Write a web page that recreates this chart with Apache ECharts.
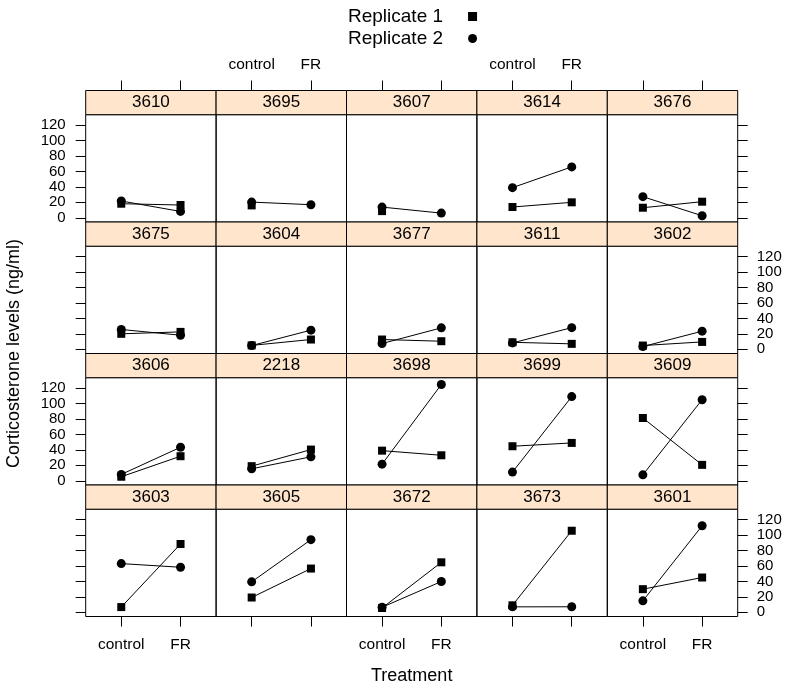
<!DOCTYPE html>
<html>
<head>
<meta charset="utf-8">
<script src="https://cdn.jsdelivr.net/npm/echarts@6/dist/echarts.min.js"></script>
<style>html,body{margin:0;padding:0;background:#fff}#c{width:788px;height:686px}</style>
</head>
<body>
<div id="c"></div>
<script>
const panels = ['3610','3695','3607','3614','3676','3675','3604','3677','3611','3602','3606','2218','3698','3699','3609','3603','3605','3672','3673','3601'];
const treatments = ['control','FR'];
const yTicks = [0,20,40,60,80,100,120];
const replicate1 = [[18.2,16.5],[16,null],[8.6,null],[13.9,20],[13,20.8],[20,22.5],[5,12.6],[12.6,10.4],[9,7],[4.8,9.5],[5.2,31.8],[18.9,40.4],[39,33],[44.7,49],[81.3,20.6],[6.7,88.4],[19.1,56.6],[5.5,64.7],[9,105.6],[29.9,45]];
const replicate2 = [[21.7,8.2],[20.3,16.9],[13.8,6],[39,65.9],[27.3,2.6],[25.6,18.2],[4.8,24.7],[7.4,27.7],[8.2,28],[3.5,23.4],[8.2,43.4],[15.5,31],[21.5,124.7],[11.2,109],[7.7,105],[63,58.3],[39.4,94],[6.5,39.8],[7,7.1],[14.8,112]];

const FONT = 'Liberation Sans, Arial, sans-serif';
const NCOL = 5, NROW = 4;
const X0 = 85.7, CW = 130.4, Y0 = 90.5, RH = 131.5, SH = 24.2;
const XMIN = 0.4, XMAX = 2.6, YMIN = -5.5, YMAX = 133.5;

const grids = [], xAxes = [], yAxes = [], series = [], graphics = [];
const tickStyle = {show: true, inside: false, length: 10, lineStyle: {color: '#000', width: 1}};

function toPoints(arr) {
  const pts = [];
  arr.forEach((v, i) => { if (v !== null) pts.push([i + 1, v]); });
  return pts;
}

panels.forEach((name, p) => {
  const r = Math.floor(p / NCOL), c = p % NCOL;
  const left = X0 + c * CW;
  const stripTop = Y0 + r * RH;
  const top = stripTop + SH;
  const h = RH - SH;
  grids.push({left: left, top: top, width: CW, height: h, show: true, borderColor: '#000', borderWidth: 1, backgroundColor: 'transparent', containLabel: false});
  const bottomRow = r === NROW - 1;
  xAxes.push({
    gridIndex: p, type: 'value', min: XMIN, max: XMAX, position: 'bottom',
    show: bottomRow,
    axisLine: {show: false, onZero: false}, splitLine: {show: false},
    axisTick: Object.assign({}, tickStyle, {customValues: [1, 2]}),
    axisLabel: {show: c % 2 === 0, customValues: [1, 2], margin: 20, color: '#000', fontFamily: FONT, fontSize: 15.5,
      formatter: v => treatments[Math.round(v) - 1]}
  });
  const isLeft = c === 0, isRight = c === NCOL - 1;
  yAxes.push({
    gridIndex: p, type: 'value', min: YMIN, max: YMAX,
    position: isRight ? 'right' : 'left',
    show: isLeft || isRight,
    axisLine: {show: false, onZero: false}, splitLine: {show: false},
    axisTick: Object.assign({}, tickStyle, {customValues: yTicks}),
    axisLabel: {show: (isLeft && r % 2 === 0) || (isRight && r % 2 === 1), customValues: yTicks,
      margin: isLeft ? 20 : 19, color: '#000', fontFamily: FONT, fontSize: 15}
  });
  series.push({
    name: 'Replicate 1', type: 'line', xAxisIndex: p, yAxisIndex: p,
    data: toPoints(replicate1[p]), symbol: 'rect', symbolSize: 8,
    itemStyle: {color: '#000'}, lineStyle: {color: '#000', width: 1}, z: 3
  });
  series.push({
    name: 'Replicate 2', type: 'line', xAxisIndex: p, yAxisIndex: p,
    data: toPoints(replicate2[p]), symbol: 'circle', symbolSize: 9,
    itemStyle: {color: '#000'}, lineStyle: {color: '#000', width: 1}, z: 4
  });
  graphics.push({
    type: 'rect', shape: {x: left, y: stripTop, width: CW, height: SH},
    style: {fill: '#ffe5cc', stroke: '#000', lineWidth: 1}, z: 1
  });
  graphics.push({
    type: 'text', x: left + CW / 2, y: stripTop + SH / 2,
    style: {text: name, fill: '#000', font: '17px ' + FONT, textAlign: 'center', textVerticalAlign: 'middle'}, z: 2
  });
});

// top tick axes above the first row's strips
for (let c = 0; c < NCOL; c++) {
  const gi = grids.length;
  grids.push({left: X0 + c * CW, top: Y0, width: CW, height: RH, show: false});
  xAxes.push({
    gridIndex: gi, type: 'value', min: XMIN, max: XMAX, position: 'top',
    axisLine: {show: false, onZero: false}, splitLine: {show: false},
    axisTick: Object.assign({}, tickStyle, {customValues: [1, 2]}),
    axisLabel: {show: c % 2 === 1, customValues: [1, 2], margin: 18, color: '#000', fontFamily: FONT, fontSize: 15.5,
      formatter: v => treatments[Math.round(v) - 1]}
  });
  yAxes.push({gridIndex: gi, type: 'value', min: YMIN, max: YMAX, show: false});
}

graphics.push({
  type: 'text', x: 14, y: 353.5, rotation: Math.PI / 2,
  style: {text: 'Corticosterone levels (ng/ml)', fill: '#000', font: '18px ' + FONT, textAlign: 'center', textVerticalAlign: 'middle'}
});
graphics.push({
  type: 'text', x: 411.7, y: 676,
  style: {text: 'Treatment', fill: '#000', font: '18px ' + FONT, textAlign: 'center', textVerticalAlign: 'middle'}
});

const chart = echarts.init(document.getElementById('c'), null, {renderer: 'canvas'});
chart.setOption({
  animation: false,
  backgroundColor: '#fff',
  legend: {
    left: 343, top: 2, orient: 'vertical', align: 'right', itemGap: 3,
    itemWidth: 9, itemHeight: 9, selectedMode: false,
    textStyle: {fontFamily: FONT, fontSize: 19, color: '#000', padding: [0, 20, 0, 0]},
    data: [{name: 'Replicate 1', icon: 'rect', itemStyle: {color: '#000'}},
           {name: 'Replicate 2', icon: 'circle', itemStyle: {color: '#000'}}]
  },
  grid: grids,
  xAxis: xAxes,
  yAxis: yAxes,
  series: series,
  graphic: graphics
});
</script>
</body>
</html>
